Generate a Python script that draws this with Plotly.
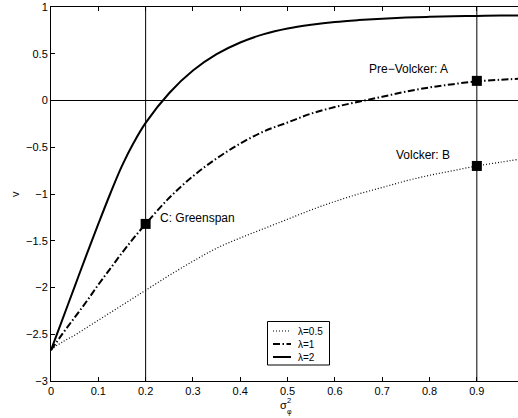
import plotly.graph_objects as go

# sigma_phi^2 grid
sigma2 = [0, 0.025, 0.05, 0.075, 0.1, 0.125, 0.15, 0.175, 0.2, 0.25, 0.3, 0.35, 0.4,
          0.45, 0.5, 0.55, 0.6, 0.65, 0.7, 0.75, 0.8, 0.85, 0.9, 0.95, 0.987]

v_lam05 = [-2.66, -2.58, -2.51, -2.43, -2.35, -2.27, -2.19, -2.11, -2.03, -1.87, -1.72,
           -1.58, -1.47, -1.37, -1.27, -1.17, -1.08, -1.00, -0.93, -0.86, -0.80, -0.75,
           -0.70, -0.66, -0.63]
v_lam1 = [-2.67, -2.49, -2.32, -2.15, -1.97, -1.80, -1.63, -1.47, -1.32, -1.04, -0.81,
          -0.62, -0.46, -0.33, -0.235, -0.14, -0.07, -0.013, 0.04, 0.095, 0.14, 0.175,
          0.205, 0.222, 0.232]
v_lam2 = [-2.67, -2.33, -1.99, -1.65, -1.32, -1.00, -0.70, -0.45, -0.24, 0.08, 0.32,
          0.495, 0.62, 0.71, 0.77, 0.81, 0.84, 0.86, 0.875, 0.887, 0.895, 0.90, 0.905,
          0.908, 0.91]

legend_names = ["λ=0.5", "λ=1", "λ=2"]

# Highlighted regimes
point_labels = ["Pre−Volcker: A", "Volcker: B", "C: Greenspan"]
point_x = [0.9, 0.9, 0.2]
point_y = [0.21, -0.70, -1.32]
label_x = [0.7565, 0.786, 0.227]
label_y = [0.34, -0.58, -1.26]
label_anchor = ["center", "center", "left"]

x_ticks = [0, 0.1, 0.2, 0.3, 0.4, 0.5, 0.6, 0.7, 0.8, 0.9]
y_ticks = [1, 0.5, 0, -0.5, -1, -1.5, -2, -2.5, -3]
y_ticklabels = ["1", "0.5", "0", "−0.5", "−1", "−1.5", "−2", "−2.5", "−3"]

FONT = "Liberation Sans, Arial, Helvetica, sans-serif"
styles = [dict(color="black", width=1.2, dash="1px,2px"),
          dict(color="black", width=2, dash="7px,2.5px,1.5px,2.5px"),
          dict(color="black", width=2)]

# plot-area pixel geometry (used only for placing text / legend)
L, T, B, W, H = 51, 7, 37, 518, 418
PW, PH = W - L, H - T - B


def px(xp):
    return (xp - L) / PW


def py(yp):
    return (H - B - yp) / PH


fig = go.Figure()
for yy, nm, st in zip([v_lam05, v_lam1, v_lam2], legend_names, styles):
    fig.add_trace(go.Scatter(x=sigma2, y=yy, mode="lines", name=nm, showlegend=False,
                             line=dict(**st, shape="spline", smoothing=1.0)))
fig.add_trace(go.Scatter(x=point_x, y=point_y, mode="markers", showlegend=False,
                         marker=dict(symbol="square", size=10, color="black")))

# reference lines
for xv in [0.2, 0.9]:
    fig.add_shape(type="line", xref="x", yref="paper", x0=xv, x1=xv, y0=0, y1=1,
                  line=dict(color="black", width=1), layer="below")
fig.add_shape(type="line", xref="paper", yref="y", x0=0, x1=1, y0=0, y1=0,
              line=dict(color="black", width=1), layer="below")

for t, xx, yy, an in zip(point_labels, label_x, label_y, label_anchor):
    fig.add_annotation(x=xx, y=yy, text=t, showarrow=False, xanchor=an, yanchor="middle",
                       font=dict(size=12, color="black", family=FONT))

# custom legend box
fig.add_shape(type="rect", xref="paper", yref="paper", x0=px(267.5), x1=px(329.5),
              y0=py(365), y1=py(321.5), line=dict(color="black", width=1),
              fillcolor="white", layer="above")
for i, (nm, st) in enumerate(zip(legend_names, styles)):
    yrow = 331 + 13 * i
    fig.add_shape(type="line", xref="paper", yref="paper", x0=px(273), x1=px(291),
                  y0=py(yrow), y1=py(yrow), line=st, layer="above")
    fig.add_annotation(xref="paper", yref="paper", x=px(296), y=py(yrow), text=nm,
                       showarrow=False, xanchor="left", yanchor="middle",
                       font=dict(size=10, color="black", family=FONT))

# axis labels
fig.add_annotation(xref="paper", yref="paper", x=px(283), y=py(405),
                   text="σ", showarrow=False, xanchor="center", yanchor="middle",
                   font=dict(size=11, color="black", family=FONT))
fig.add_annotation(xref="paper", yref="paper", x=px(289), y=py(400),
                   text="2", showarrow=False, xanchor="center", yanchor="middle",
                   font=dict(size=7.5, color="black", family=FONT))
fig.add_annotation(xref="paper", yref="paper", x=px(289.5), y=py(411.5),
                   text="φ", showarrow=False, xanchor="center", yanchor="middle",
                   font=dict(size=7, color="black", family=FONT))
fig.add_annotation(xref="paper", yref="paper", x=px(15), y=py(194),
                   text="v", showarrow=False, xanchor="center", yanchor="middle", textangle=-90,
                   font=dict(size=11, color="black", family=FONT))

fig.update_layout(
    width=W, height=H,
    margin=dict(l=L, r=0, t=T, b=B),
    paper_bgcolor="white", plot_bgcolor="white",
    font=dict(family=FONT, size=11, color="black"),
    showlegend=False,
    xaxis=dict(range=[0, 0.987], tickvals=x_ticks, ticktext=[str(v) for v in x_ticks],
               ticks="inside", ticklen=4, tickcolor="black", showline=True,
               linecolor="black", linewidth=1, mirror="ticks", showgrid=False,
               zeroline=False, tickfont=dict(size=11)),
    yaxis=dict(range=[-3, 1], tickvals=y_ticks, ticktext=y_ticklabels,
               ticks="inside", ticklen=4, tickcolor="black", showline=True,
               linecolor="black", linewidth=1, showgrid=False, zeroline=False,
               tickfont=dict(size=11)),
)

fig.write_html("out.html")
